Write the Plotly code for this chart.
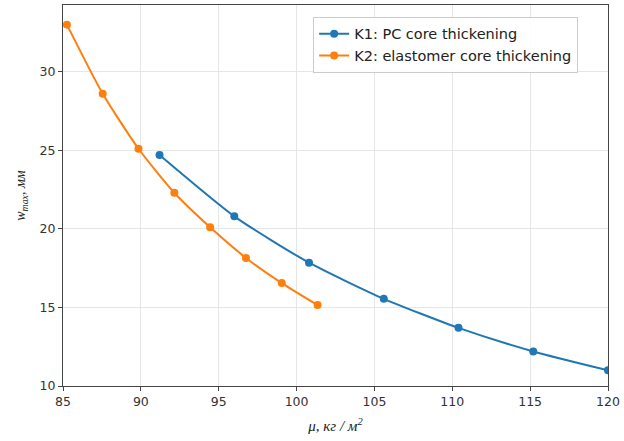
import plotly.graph_objects as go

k1_x = [91.2, 96.0, 100.8, 105.6, 110.4, 115.2, 120.0]
k1_y = [24.7, 20.8, 17.85, 15.55, 13.7, 12.2, 11.0]
k2_x = [85.25, 87.55, 89.85, 92.15, 94.45, 96.75, 99.05, 101.35]
k2_y = [33.0, 28.6, 25.1, 22.3, 20.1, 18.15, 16.55, 15.15]

series_names = ["K1: PC core thickening", "K2: elastomer core thickening"]
x_ticks = [85, 90, 95, 100, 105, 110, 115, 120]
y_ticks = [10, 15, 20, 25, 30]

fig = go.Figure()
fig.add_trace(go.Scatter(x=k1_x, y=k1_y, mode="lines+markers", name=series_names[0],
                         line=dict(color="#1f77b4", width=2, shape="spline", smoothing=0.6),
                         marker=dict(size=8, color="#1f77b4")))
fig.add_trace(go.Scatter(x=k2_x, y=k2_y, mode="lines+markers", name=series_names[1],
                         line=dict(color="#ff7f0e", width=2, shape="spline", smoothing=0.6),
                         marker=dict(size=8, color="#ff7f0e")))

axis_common = dict(showline=True, linecolor="#444", linewidth=1, mirror=True,
                   ticks="outside", ticklen=4, tickcolor="#444", automargin=False,
                   showgrid=True, gridcolor="#e6e6e6", gridwidth=1, zeroline=False,
                   tickfont=dict(family="DejaVu Sans", size=12.5, color="#333"))

fig.update_layout(
    width=624, height=441,
    margin=dict(l=63, r=16, t=5, b=55),
    paper_bgcolor="white", plot_bgcolor="white",
    showlegend=True,
    legend=dict(x=0.459, y=0.969, xanchor="left", yanchor="top",
                bordercolor="#cccccc", borderwidth=1, bgcolor="rgba(255,255,255,0.9)",
                font=dict(family="DejaVu Sans", size=14.5, color="#222"),
                itemwidth=30, tracegroupgap=0),
    xaxis=dict(range=[85, 120], tickvals=x_ticks, **axis_common,
               title=dict(text="<i>μ, кг / м<sup>2</sup></i>", standoff=12,
                          font=dict(family="Liberation Serif", size=15, color="#222"))),
    yaxis=dict(range=[10, 34.25], tickvals=y_ticks, **axis_common,
               title=dict(text="<i>w<sub>max</sub>, мм</i>", standoff=10,
                          font=dict(family="Liberation Serif", size=14, color="#222"))),
)

fig.write_html("out.html", config={"displayModeBar": False},
               post_script="document.body.style.margin='0';")
